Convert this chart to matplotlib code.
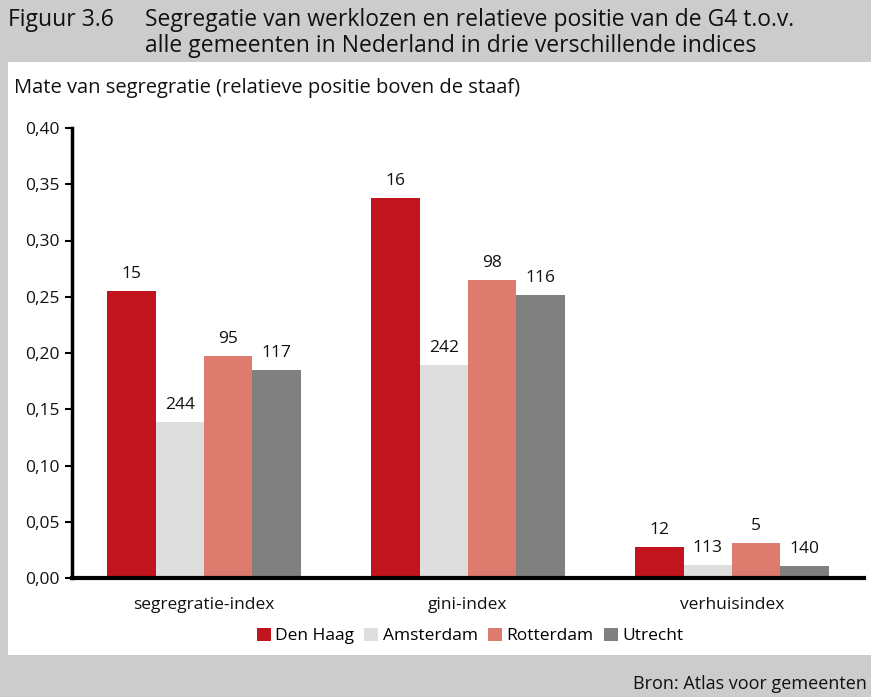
import matplotlib
matplotlib.use("Agg")
import matplotlib.pyplot as plt
import numpy as np
from matplotlib.patches import Rectangle

plt.rcParams['font.family'] = ['Open Sans', 'DejaVu Sans']

categories = ["segregratie-index", "gini-index", "verhuisindex"]
series = ["Den Haag", "Amsterdam", "Rotterdam", "Utrecht"]
den_haag = [0.255, 0.338, 0.028]
amsterdam = [0.139, 0.189, 0.012]
rotterdam = [0.197, 0.265, 0.031]
utrecht = [0.185, 0.252, 0.011]
ranks_den_haag = ["15", "16", "12"]
ranks_amsterdam = ["244", "242", "113"]
ranks_rotterdam = ["95", "98", "5"]
ranks_utrecht = ["117", "116", "140"]
yticks = [0.0, 0.05, 0.10, 0.15, 0.20, 0.25, 0.30, 0.35, 0.40]

colors = ["#c0141f", "#dedede", "#de7b6f", "#808080"]

W, H = 871, 697
fig = plt.figure(figsize=(W/100, H/100), dpi=100)
fig.patch.set_facecolor("#cccccc")

# white panel
fig.patches.append(Rectangle((8/W, 1-655/H), (W-8)/W, (655-62)/H,
                             transform=fig.transFigure, facecolor="white",
                             edgecolor="none", zorder=-10))

tcol = "#111111"
fig.text(8/W, 1-20/H, "Figuur 3.6", fontsize=16.5, va="center", ha="left", color=tcol)
fig.text(145/W, 1-20/H, "Segregatie van werklozen en relatieve positie van de G4 t.o.v.",
         fontsize=16.5, va="center", ha="left", color=tcol)
fig.text(145/W, 1-46/H, "alle gemeenten in Nederland in drie verschillende indices",
         fontsize=16.5, va="center", ha="left", color=tcol)
fig.text(14/W, 1-88/H, "Mate van segregratie (relatieve positie boven de staaf)",
         fontsize=14.5, va="center", ha="left", color=tcol)
fig.text(867/W, 1-684/H, "Bron: Atlas voor gemeenten", fontsize=13, va="center",
         ha="right", color=tcol)

ax = fig.add_axes([72/W, 1-578/H, (864-72)/W, (578-128)/H])
ax.set_facecolor("white")
x = np.arange(len(categories))
bw = 0.183
vals = [den_haag, amsterdam, rotterdam, utrecht]
ranks = [ranks_den_haag, ranks_amsterdam, ranks_rotterdam, ranks_utrecht]
for i, (v, r) in enumerate(zip(vals, ranks)):
    pos = x + (i - 1.5) * bw
    ax.bar(pos, v, width=bw, color=colors[i], label=series[i], zorder=2)
    for p, val, lab in zip(pos, v, r):
        ax.text(p, val + 0.008, lab, ha="center", va="bottom", fontsize=12.5, color=tcol)

ax.set_xlim(-0.5, 2.5)
ax.set_ylim(0, 0.40)
ax.set_yticks(yticks)
ax.set_yticklabels([f"{t:.2f}".replace(".", ",") for t in yticks], fontsize=12.5, color=tcol)
ax.set_xticks(x)
ax.set_xticklabels(categories, fontsize=12.5, color=tcol)
ax.tick_params(axis="x", length=0, pad=14)
ax.tick_params(axis="y", length=5, width=1.5, direction="out", pad=4)
for s in ["top", "right"]:
    ax.spines[s].set_visible(False)
ax.spines["left"].set_linewidth(2.5)
ax.spines["bottom"].set_linewidth(3)

leg = fig.legend(loc="center", bbox_to_anchor=(470/W, 1-636/H), ncol=4, frameon=False,
                 fontsize=12.5, handlelength=0.8, handleheight=0.8, handletextpad=0.25,
                 columnspacing=0.6)

fig.savefig("out.png", dpi=100, facecolor=fig.get_facecolor())
